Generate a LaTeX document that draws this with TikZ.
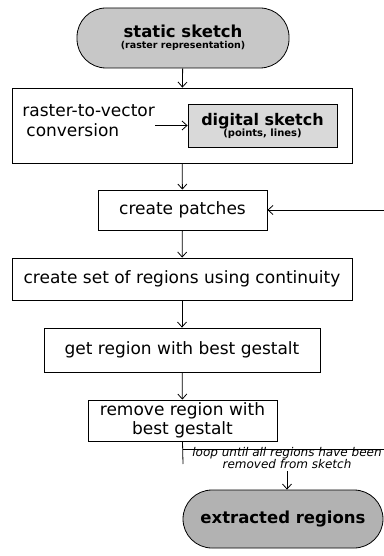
\documentclass[tikz,border=0pt]{standalone}
\usepackage{fontspec}
\setmainfont{DejaVu Sans}
\usetikzlibrary{arrows.meta}
\begin{document}
\begin{tikzpicture}[x=1pt,y=-1pt,
  line width=0.8pt,
  arr/.style={-{Straight Barb[length=5pt,width=9pt]}},
  stepbox/.style={draw, rectangle, inner sep=0pt, align=center, font=\fontsize{17}{20}\selectfont},
  term/.style={draw, rectangle, rounded corners=29pt, inner sep=0pt, align=center}
]
\useasboundingbox (0,0) rectangle (383,556);

% start terminal
\node[term, fill=black!22, minimum width=212pt, minimum height=60pt] (static) at (183,38)
  {{\bfseries\fontsize{16.5}{17}\selectfont static sketch}\\[-1pt]{\bfseries\fontsize{9.5}{10}\selectfont (raster representation)}};

% conversion stage
\node[stepbox, minimum width=340pt, minimum height=75pt] (conv) at (182,125.5) {};
\node[anchor=west, inner sep=0pt, align=left, font=\fontsize{17}{20}\selectfont] (rtv) at (22,121)
  {raster-to-vector\\\hspace*{4pt}conversion};
\node[draw, fill=black!15, minimum width=149pt, minimum height=43pt, inner sep=0pt, align=center] (digital) at (262.5,125.5)
  {{\bfseries\fontsize{16}{17}\selectfont digital sketch}\\[-1pt]{\bfseries\fontsize{10}{10}\selectfont (points, lines)}};

% processing steps
\node[stepbox, minimum width=169pt, minimum height=40pt] (patches) at (182.5,210) {create patches};
\node[stepbox, minimum width=340pt, minimum height=42pt] (regions) at (182,279) {create set of regions using continuity};
\node[stepbox, minimum width=276pt, minimum height=44pt] (best) at (182,350) {get region with best gestalt};
\node[stepbox, minimum width=189pt, minimum height=41pt, font=\fontsize{17}{19}\selectfont] (remove) at (182.5,420.5) {remove region with\\best gestalt};

% loop annotation and end terminal
\node[inner sep=0pt, align=center, font=\itshape\fontsize{12}{12}\selectfont] (loop) at (287,458)
  {loop until all regions have been\\removed from sketch};
\node[term, fill=black!30, minimum width=200pt, minimum height=58pt] (extracted) at (283,519)
  {{\bfseries\fontsize{16.5}{18}\selectfont extracted regions}};

% connectors
\draw[arr] (static) -- (conv);
\draw[arr] (rtv.east |- digital.west) -- (digital.west);
\draw[arr] (conv) -- (patches);
\draw[arr] (patches) -- (regions);
\draw[arr] (regions) -- (best);
\draw[arr] (best) -- (remove);

\coordinate (loopB) at (183,464);
\coordinate (loopL) at (183,449);
\coordinate (loopR) at (392,449);
\draw (remove.south) -- (loopB);
\draw[arr] (loopL) -- (loopR) |- (patches.east);
\draw[arr] (loop.south) ++(0,2) -- (loop.south |- extracted.north);
\end{tikzpicture}
\end{document}
